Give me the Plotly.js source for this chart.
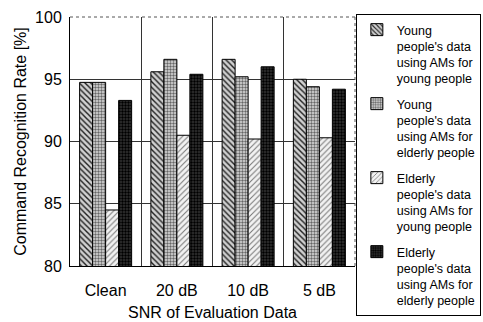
<!DOCTYPE html>
<html><head><meta charset="utf-8">
<script src="https://cdn.plot.ly/plotly-3.0.1.min.js"></script>
<style>body{margin:0;background:#fff}#c{width:483px;height:322px}</style>
</head><body><div id="c"></div>
<script>
const categories = ["Clean", "20 dB", "10 dB", "5 dB"];
const seriesNames = [
  "Young<br>people's data<br>using AMs for<br>young people",
  "Young<br>people's data<br>using AMs for<br>elderly people",
  "Elderly<br>people's data<br>using AMs for<br>young people",
  "Elderly<br>people's data<br>using AMs for<br>elderly people"
];
const youngYoung = [94.75, 95.6, 96.6, 95.0];
const youngElderly = [94.75, 96.6, 95.2, 94.4];
const elderlyYoung = [84.5, 90.5, 90.2, 90.3];
const elderlyElderly = [93.3, 95.4, 96.0, 94.2];
const yTicks = [80, 85, 90, 95, 100];

const values = [youngYoung, youngElderly, elderlyYoung, elderlyElderly];
const patterns = [
  {shape: "\\", fgcolor: "#222", bgcolor: "#d0d0d0", size: 4, solidity: 0.35},
  {shape: ".", fgcolor: "#666", bgcolor: "#e0e0e0", size: 3, solidity: 0.5},
  {shape: "/", fgcolor: "#777", bgcolor: "#f2f2f2", size: 4, solidity: 0.25},
  {shape: ".", fgcolor: "#000", bgcolor: "#333", size: 3, solidity: 0.5}
];
const traces = values.map((v, i) => ({
  type: "bar", x: categories, y: v, name: seriesNames[i], legendgroup: "g" + i,
  marker: {color: patterns[i].bgcolor, pattern: patterns[i], line: {color: "#000", width: 1}}
}));

const fam = "Liberation Sans, Arial, sans-serif";
const font = {family: fam, size: 16, color: "#000"};
const legFont = {family: fam, size: 12.5, color: "#000"};
const layout = {
  width: 483, height: 322,
  margin: {l: 70, r: 128, t: 17, b: 56, autoexpand: false},
  paper_bgcolor: "#fff", plot_bgcolor: "#fff",
  font: font,
  barmode: "group", bargap: 0.27, bargroupgap: 0,
  showlegend: true,
  legend: {x: 1.003, xanchor: "left", y: 1.012, yanchor: "top", valign: "top",
    bordercolor: "#000", borderwidth: 1, font: legFont, tracegroupgap: 6,
    itemwidth: 30, bgcolor: "rgba(255,255,255,0)", maxheight: 310},
  xaxis: {
    tickson: "boundaries", showgrid: true, gridcolor: "#333", gridwidth: 1,
    showline: true, linecolor: "#000", linewidth: 1, ticks: "",
    tickfont: font, ticklabelstandoff: 10,
    title: {text: "SNR of Evaluation Data", font: font, standoff: 8}
  },
  yaxis: {
    range: [80, 100], tickvals: yTicks, showgrid: true, gridcolor: "#333", gridwidth: 1,
    showline: true, linecolor: "#000", linewidth: 1, ticks: "", zeroline: false,
    tickfont: font, ticklabelstandoff: 4,
    title: {text: "Command Recognition Rate [%]", font: font, standoff: 4}
  },
  shapes: [
    {type: "line", xref: "paper", yref: "paper", x0: 0, x1: 1, y0: 1, y1: 1,
     line: {color: "#555", width: 1, dash: "dot"}},
    {type: "line", xref: "paper", yref: "paper", x0: 1, x1: 1, y0: 0, y1: 1,
     line: {color: "#555", width: 1, dash: "dot"}}
  ]
};
Plotly.newPlot("c", traces, layout, {displayModeBar: false, staticPlot: true});
</script></body></html>
